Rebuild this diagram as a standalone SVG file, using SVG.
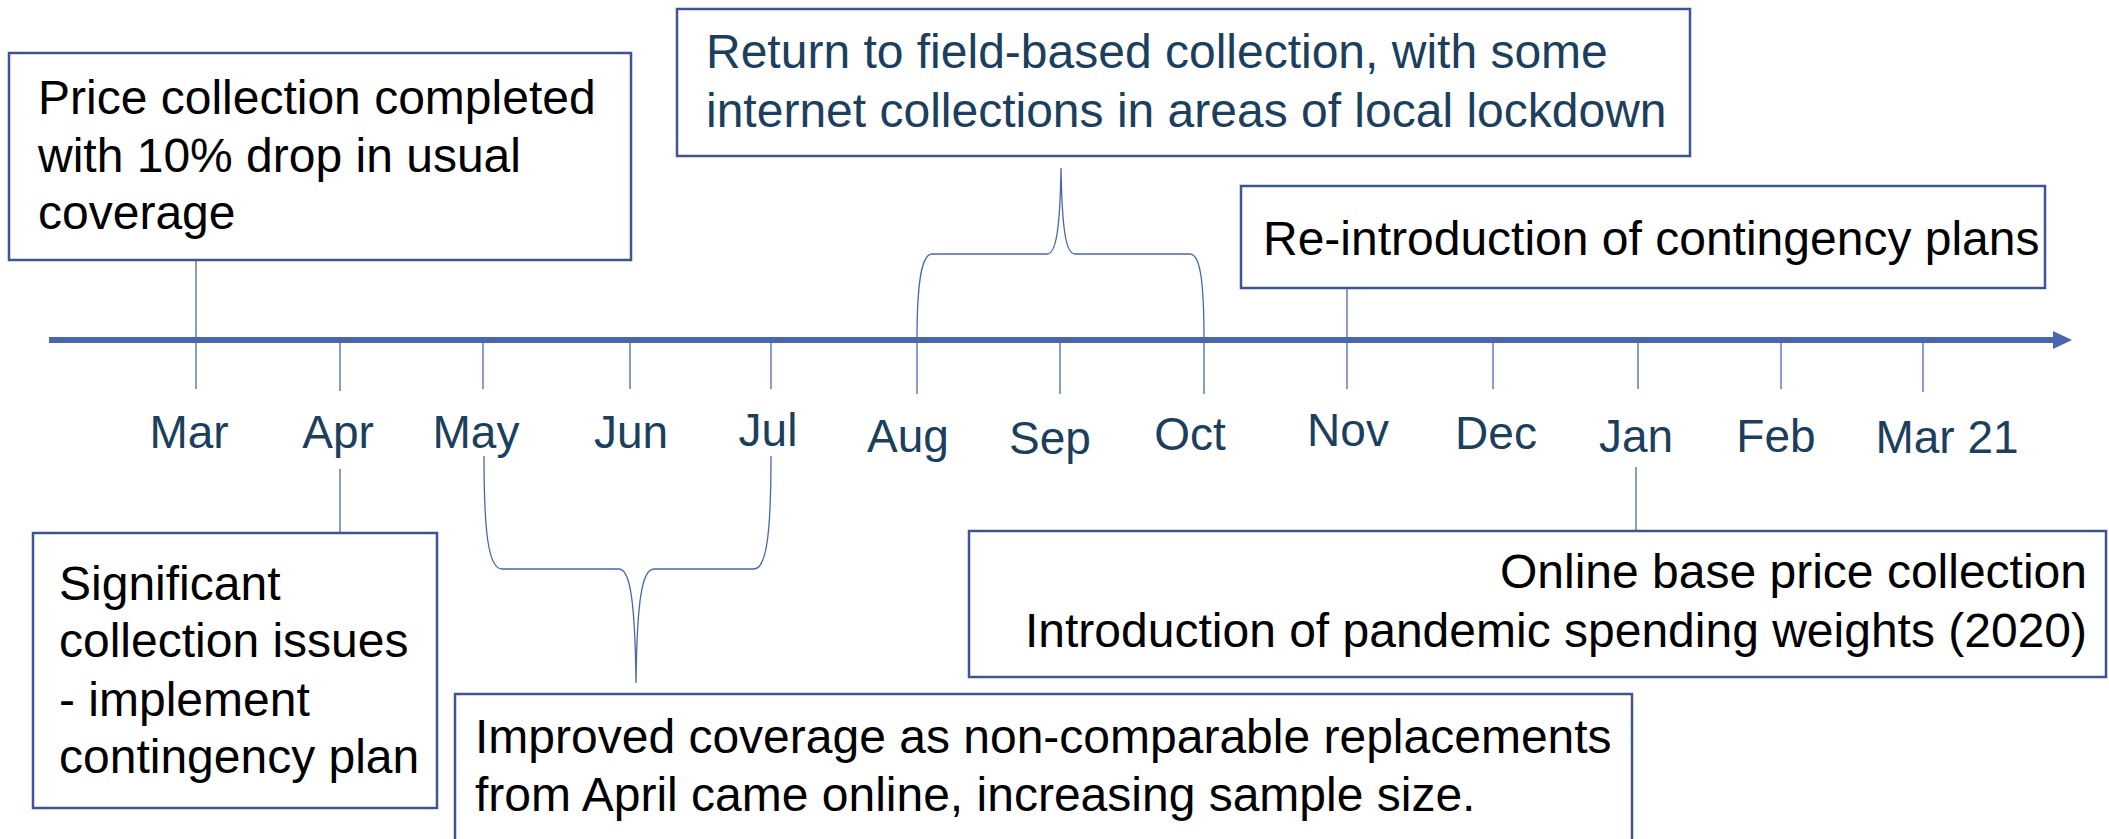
<svg xmlns="http://www.w3.org/2000/svg" width="2109" height="839" viewBox="0 0 2109 839">
<defs>
<style>
.box{fill:#fff;stroke:#3F5592;stroke-width:2.5}
.t{font-family:"Liberation Sans",Arial,sans-serif;font-size:48px;fill:#000}
.tb{font-family:"Liberation Sans",Arial,sans-serif;font-size:48px;fill:#1B3F5C}
.m{font-family:"Liberation Sans",Arial,sans-serif;font-size:46px;fill:#1B3F5C;text-anchor:middle}
.tick{stroke:#4A66AC;stroke-width:1.3;fill:none}
.axis{stroke:#4A66AC;stroke-width:6;fill:none}
</style>
<marker id="ah" markerUnits="userSpaceOnUse" markerWidth="20" markerHeight="18" refX="0" refY="9" orient="auto">
<path d="M0,0 L19,9 L0,18 Z" fill="#4A66AC"/>
</marker>
</defs>
<rect width="2109" height="839" fill="#fff"/>

<g id="connectors">
<line class="axis" x1="49" y1="340" x2="2053" y2="340" marker-end="url(#ah)"/>
<line class="tick" x1="196" y1="260" x2="196" y2="389"/>
<line class="tick" x1="340" y1="340" x2="340" y2="391"/>
<line class="tick" x1="340" y1="469" x2="340" y2="532"/>
<line class="tick" x1="483" y1="340" x2="483" y2="389"/>
<line class="tick" x1="630" y1="340" x2="630" y2="389"/>
<line class="tick" x1="771" y1="340" x2="771" y2="389"/>
<line class="tick" x1="917" y1="340" x2="917" y2="394"/>
<line class="tick" x1="1060" y1="343" x2="1060" y2="394"/>
<line class="tick" x1="1204" y1="340" x2="1204" y2="394"/>
<line class="tick" x1="1347" y1="288" x2="1347" y2="389"/>
<line class="tick" x1="1493" y1="340" x2="1493" y2="389"/>
<line class="tick" x1="1638" y1="340" x2="1638" y2="389"/>
<line class="tick" x1="1636" y1="467" x2="1636" y2="531"/>
<line class="tick" x1="1781" y1="340" x2="1781" y2="389"/>
<line class="tick" x1="1923" y1="340" x2="1923" y2="392"/>
<path class="tick" d="M917 340 C917 280 922 254 932 254 L1047 254 C1056 254 1060 230 1061 168 C1062 230 1066 254 1075 254 L1190 254 C1200 254 1204 280 1204 340"/>
<path class="tick" d="M484 456 C484 530 488 569 502 569 L619 569 C630 569 635 600 636 683 C637 600 642 569 654 569 L754 569 C767 569 771 530 771 456"/>
</g>

<g id="months">
<text class="m" x="189" y="448">Mar</text>
<text class="m" x="338" y="448">Apr</text>
<text class="m" x="476" y="448">May</text>
<text class="m" x="631" y="448">Jun</text>
<text class="m" x="768" y="446">Jul</text>
<text class="m" x="908" y="452">Aug</text>
<text class="m" x="1050" y="454">Sep</text>
<text class="m" x="1190" y="450">Oct</text>
<text class="m" x="1348" y="446">Nov</text>
<text class="m" x="1496" y="449">Dec</text>
<text class="m" x="1636" y="452">Jan</text>
<text class="m" x="1776" y="452">Feb</text>
<text class="m" x="1947" y="453">Mar 21</text>
</g>

<g id="node-mar">
<rect class="box" x="9" y="53" width="622" height="207"/>
<text class="t" x="38" y="114">Price collection completed</text>
<text class="t" x="38" y="172">with 10% drop in usual</text>
<text class="t" x="38" y="229">coverage</text>
</g>

<g id="node-return">
<rect class="box" x="677" y="9" width="1013" height="147"/>
<text class="tb" x="706" y="68">Return to field-based collection, with some</text>
<text class="tb" x="706" y="127">internet collections in areas of local lockdown</text>
</g>

<g id="node-reintro">
<rect class="box" x="1241" y="186" width="804" height="102"/>
<text class="t" x="1263" y="255">Re-introduction of contingency plans</text>
</g>

<g id="node-apr">
<rect class="box" x="33" y="533" width="404" height="275"/>
<text class="t" x="59" y="600">Significant</text>
<text class="t" x="59" y="657">collection issues</text>
<text class="t" x="59" y="716">- implement</text>
<text class="t" x="59" y="773">contingency plan</text>
</g>

<g id="node-improved">
<rect class="box" x="455" y="694" width="1177" height="160"/>
<text class="t" x="475" y="753">Improved coverage as non-comparable replacements</text>
<text class="t" x="475" y="811">from April came online, increasing sample size.</text>
</g>

<g id="node-jan">
<rect class="box" x="969" y="531" width="1137" height="146"/>
<text class="t" x="2087" y="588" text-anchor="end">Online base price collection</text>
<text class="t" x="2087" y="647" text-anchor="end">Introduction of pandemic spending weights (2020)</text>
</g>
</svg>
